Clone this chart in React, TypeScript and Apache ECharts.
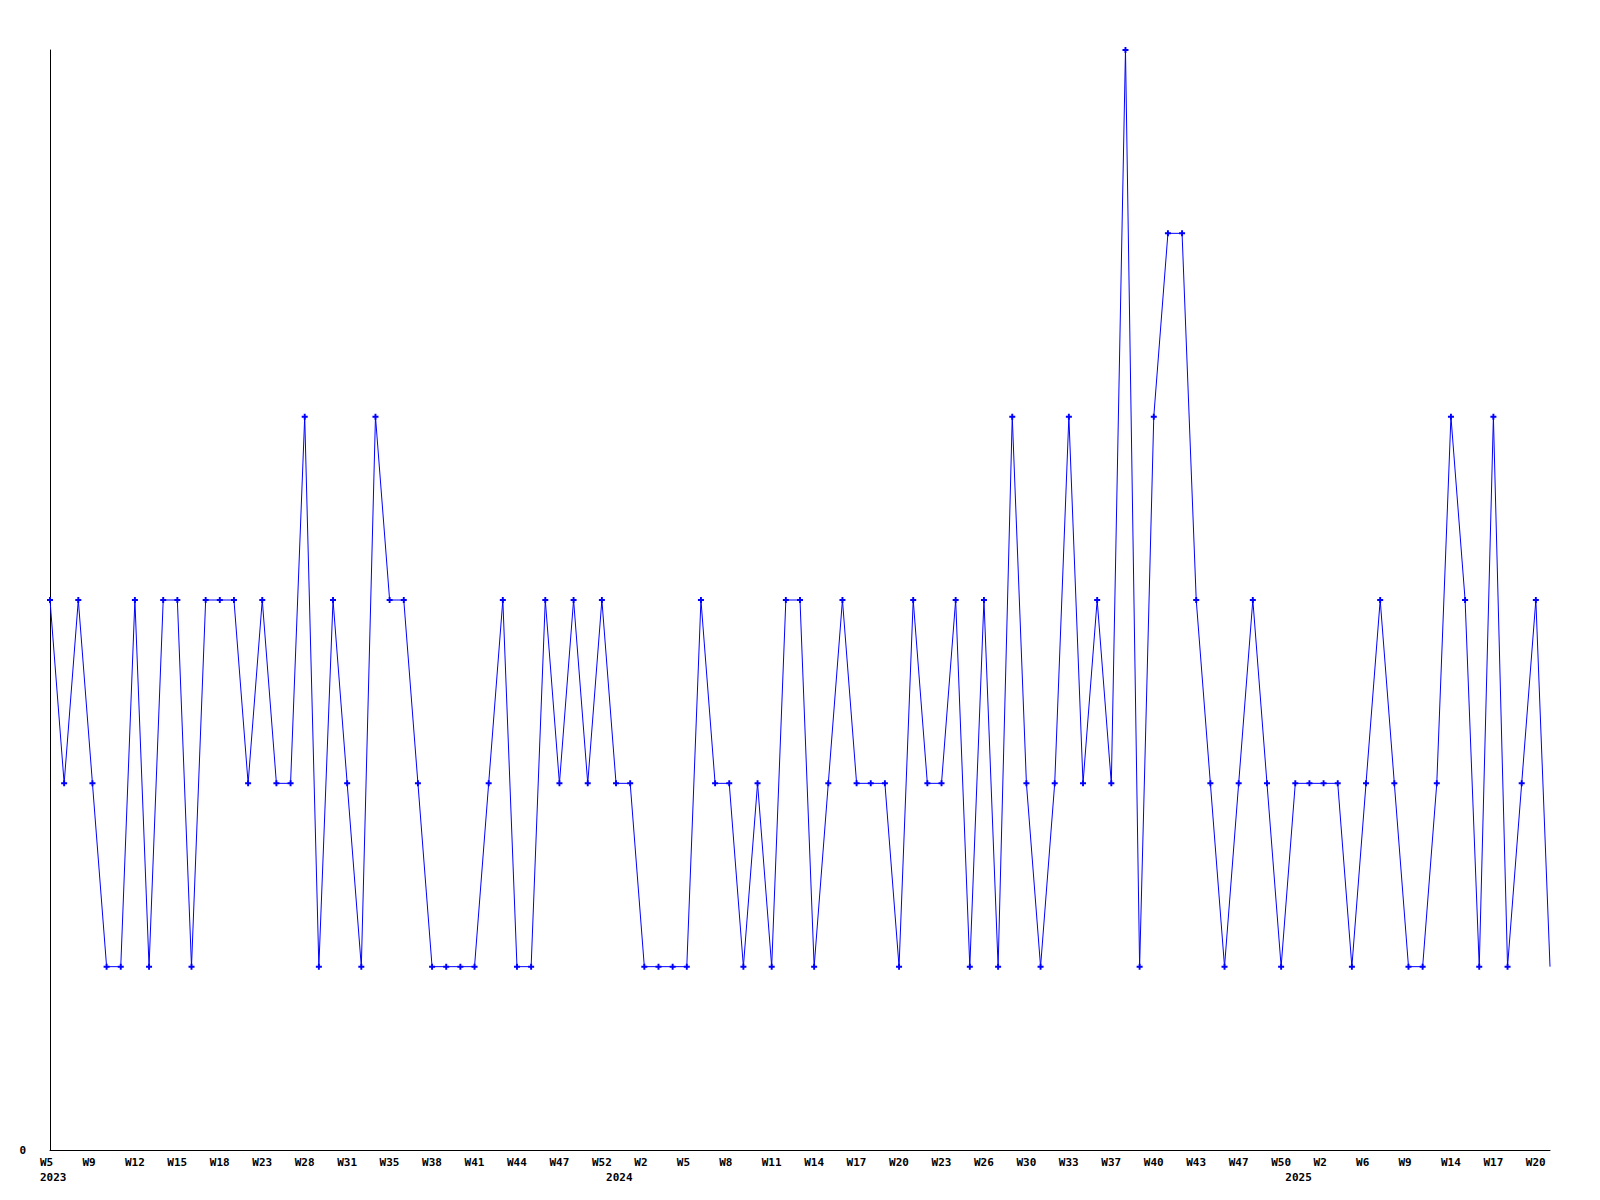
import React, { useEffect, useRef } from "react";
import * as echarts from "echarts";

const weeks2023 = ["W5","W6","W8","W9","W10","W11","W12","W13","W14","W15","W16","W17","W18","W20","W21","W23","W25","W26","W28","W29","W30","W31","W33","W34","W35","W36","W37","W38","W39","W40","W41","W42","W43","W44","W45","W46","W47","W49","W50","W52"];
const weeks2024 = ["W0","W1","W2","W3","W4","W5","W6","W7","W8","W9","W10","W11","W12","W13","W14","W15","W16","W17","W18","W19","W20","W21","W22","W23","W24","W25","W26","W27","W29","W30","W31","W32","W33","W34","W36","W37","W38","W39","W40","W41","W42","W43","W44","W46","W47","W48","W49","W50"];
const weeks2025 = ["W0","W1","W2","W3","W5","W6","W7","W8","W9","W11","W12","W14","W15","W16","W17","W18","W19","W20","W21"];

const values = [
  3,2,3,2,1,1,3,1,3,3,
  1,3,3,3,2,3,2,2,4,1,
  3,2,1,4,3,3,2,1,1,1,
  1,2,3,1,1,3,2,3,2,3,
  2,2,1,1,1,1,3,2,2,1,
  2,1,3,3,1,2,3,2,2,2,
  1,3,2,2,3,1,3,1,4,2,
  1,2,4,2,3,2,6,1,4,5,
  5,3,2,1,2,3,2,1,2,2,
  2,2,1,2,3,2,1,1,2,4,
  3,1,4,1,2,3,1,
];

const yearStarts: { [k: string]: string } = {};
const categories: string[] = [];
const weekLabel: string[] = [];
[["2023", weeks2023], ["2024", weeks2024], ["2025", weeks2025]].forEach(([year, list]) => {
  (list as string[]).forEach((w, j) => {
    if (j === 0) yearStarts[String(categories.length)] = year as string;
    categories.push(year + "-" + w);
    weekLabel.push(w);
  });
});

export default function App() {
  const ref = useRef<HTMLDivElement>(null);
  useEffect(() => {
    document.body.style.margin = "0";
    const chart = echarts.init(ref.current!, null, { renderer: "svg" });
    const font = "DejaVu Sans Mono";
    const last = values.length - 1;
    chart.setOption({
      animation: false,
      backgroundColor: "#ffffff",
      grid: { left: 50, right: 50, top: 50, bottom: 50, containLabel: false },
      xAxis: {
        type: "category",
        data: categories,
        boundaryGap: false,
        axisLine: { show: true, lineStyle: { color: "#000", width: 1 } },
        axisTick: { show: false },
        splitLine: { show: false },
        axisLabel: {
          interval: (index: number) => index % 3 === 0 || yearStarts[String(index)] !== undefined,
          formatter: (_v: string, index: number) => {
            const top = index % 3 === 0 ? weekLabel[index] : "";
            const bottom = yearStarts[String(index)] || "";
            return top + "\n" + bottom;
          },
          align: "left",
          padding: [0, 0, 0, -10],
          margin: 5,
          color: "#000",
          fontFamily: font,
          fontWeight: "bold",
          fontSize: 11,
          lineHeight: 15,
        },
      },
      yAxis: {
        type: "value",
        min: 0,
        max: 6,
        interval: 1,
        axisLine: { show: true, lineStyle: { color: "#000", width: 1 } },
        axisTick: { show: false },
        splitLine: { show: false },
        axisLabel: {
          formatter: (v: number) => (v === 0 ? "0" : ""),
          margin: 24,
          color: "#000",
          fontFamily: font,
          fontWeight: "bold",
          fontSize: 11,
        },
      },
      series: [
        {
          type: "line",
          data: values.map((v, i) => (i === last ? { value: v, symbol: "none" } : v)),
          lineStyle: { color: "#0000ff", width: 1 },
          itemStyle: { color: "#0000ff" },
          symbol: "path://M1.7,0H3.3V1.7H5V3.3H3.3V5H1.7V3.3H0V1.7H1.7Z",
          symbolSize: 6,
          showAllSymbol: true,
          clip: false,
        },
      ],
    });
    return () => chart.dispose();
  }, []);
  return <div ref={ref} style={{ width: 1600, height: 1200 }} />;
}
